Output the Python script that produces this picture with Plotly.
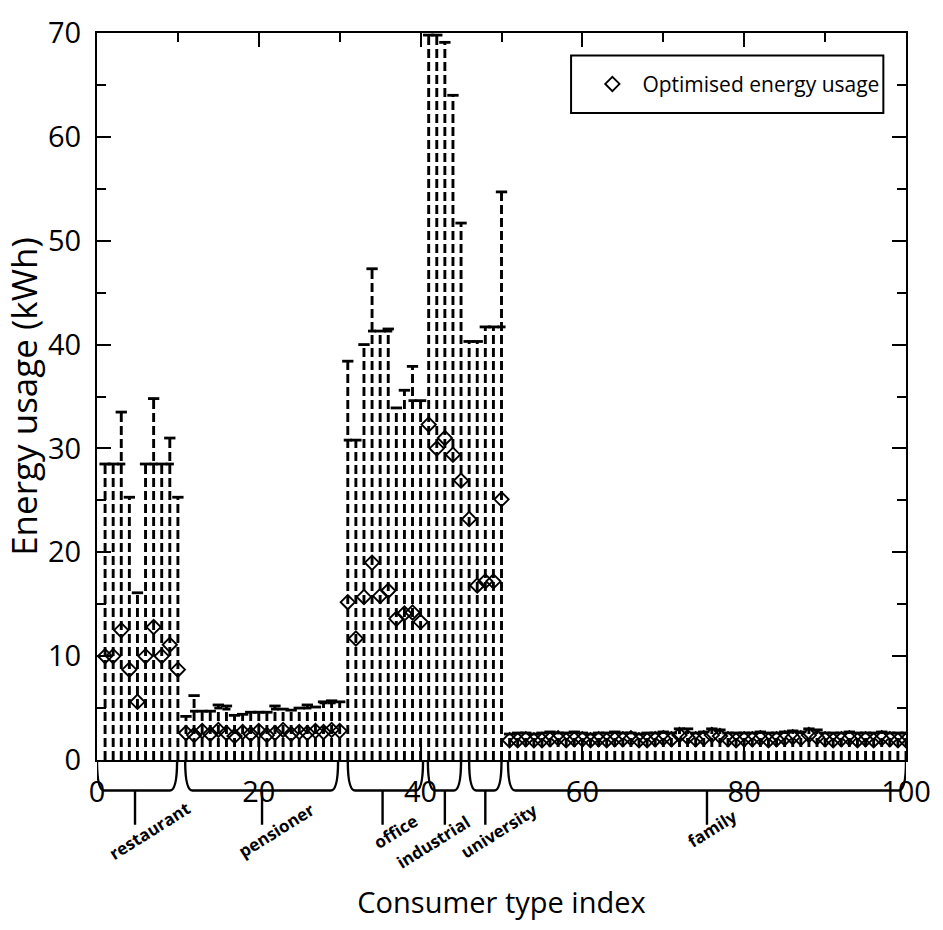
import plotly.graph_objects as go

# ---------------- data ----------------
consumer_index = list(range(1, 101))

# upper end of the usage range (top cap of each dashed line)
upper_usage = [
    # restaurant 1-10
    28.5, 28.5, 33.5, 25.3, 16.1, 28.5, 34.8, 28.5, 31.0, 25.3,
    # pensioner 11-30
    4.2, 6.2, 4.7, 4.7, 5.3, 5.2, 4.3, 4.4, 4.6, 4.6,
    4.6, 5.2, 4.9, 4.8, 5.0, 5.3, 5.1, 5.6, 5.7, 5.6,
    # office 31-40
    38.4, 30.8, 40.0, 47.3, 41.3, 41.5, 33.9, 35.6, 37.9, 34.6,
    # industrial 41-45
    69.8, 69.8, 69.1, 64.0, 51.7,
    # university 46-50
    40.3, 40.3, 41.7, 41.7, 54.7,
    # family 51-100
    2.5, 2.6, 2.6, 2.5, 2.6, 2.7, 2.6, 2.6, 2.7, 2.6,
    2.5, 2.6, 2.6, 2.7, 2.6, 2.6, 2.5, 2.6, 2.6, 2.7,
    2.6, 3.0, 3.0, 2.6, 2.7, 3.0, 2.9, 2.6, 2.6, 2.6,
    2.6, 2.7, 2.6, 2.6, 2.7, 2.8, 2.7, 3.0, 2.9, 2.6,
    2.6, 2.6, 2.7, 2.6, 2.6, 2.6, 2.7, 2.6, 2.6, 2.6,
]

# nominal usage level (step line)
level_usage = [
    28.5, 28.5, 28.5, 25.3, 16.1, 28.5, 28.5, 28.5, 28.5, 25.3,
    4.2, 4.7, 4.7, 4.7, 5.0, 4.9, 4.3, 4.4, 4.6, 4.6,
    4.6, 4.9, 4.9, 4.8, 5.0, 5.0, 5.1, 5.5, 5.5, 5.6,
    30.8, 30.8, 40.0, 41.3, 41.3, 41.3, 33.9, 35.6, 34.6, 34.6,
    69.8, 69.8, 69.1, 64.0, 51.7,
    40.3, 40.3, 41.7, 41.7, 41.7,
    2.5, 2.6, 2.6, 2.5, 2.6, 2.7, 2.6, 2.6, 2.7, 2.6,
    2.5, 2.6, 2.6, 2.7, 2.6, 2.6, 2.5, 2.6, 2.6, 2.7,
    2.6, 3.0, 3.0, 2.6, 2.7, 3.0, 2.9, 2.6, 2.6, 2.6,
    2.6, 2.7, 2.6, 2.6, 2.7, 2.8, 2.7, 3.0, 2.9, 2.6,
    2.6, 2.6, 2.7, 2.6, 2.6, 2.6, 2.7, 2.6, 2.6, 2.6,
]

# optimised energy usage (diamonds)
optimised_usage = [
    10.0, 10.0, 12.5, 8.7, 5.6, 10.0, 12.8, 10.0, 11.1, 8.7,
    2.6, 2.4, 2.8, 2.5, 2.9, 2.6, 2.3, 2.7, 2.5, 2.8,
    2.4, 2.6, 2.9, 2.5, 2.7, 2.6, 2.8, 2.7, 2.9, 2.8,
    15.2, 11.7, 15.7, 19.0, 15.8, 16.3, 13.6, 14.1, 14.2, 13.3,
    32.3, 30.0, 31.0, 29.4, 26.9,
    23.2, 16.8, 17.2, 17.2, 25.1,
    1.9, 1.9, 2.0, 1.9, 1.9, 2.0, 2.1, 1.9, 2.0, 2.0,
    1.9, 2.0, 1.9, 2.0, 2.0, 2.1, 1.9, 1.9, 2.0, 2.1,
    2.0, 2.4, 2.2, 2.0, 2.1, 2.4, 2.3, 2.0, 1.9, 2.0,
    2.0, 2.1, 1.9, 2.0, 2.1, 2.2, 2.1, 2.4, 2.2, 2.0,
    1.9, 2.0, 2.1, 1.9, 2.0, 1.9, 2.1, 2.0, 1.9, 1.9,
]

categories = ["restaurant", "pensioner", "office", "industrial", "university", "family"]
category_start = [0.0, 10.9, 31.0, 40.9, 46.0, 50.8]
category_end = [9.9, 29.8, 40.3, 45.0, 50.0, 100.0]
category_tip = [4.7, 20.4, 35.3, 43.0, 48.0, 75.4]

x_ticks = [0, 20, 40, 60, 80, 100]
y_ticks = [0, 10, 20, 30, 40, 50, 60, 70]

# ---------------- style ----------------
FONT = "Open Sans"
CAP_HALF = 0.7
STEP_HALF = 0.5

vx, vy = [], []
cx, cy = [], []
sx, sy = [], []
for i, u, lv in zip(consumer_index, upper_usage, level_usage):
    vx += [i, i, None]
    vy += [0, u, None]
    cx += [i - CAP_HALF, i + CAP_HALF, None]
    cy += [u, u, None]
    if lv < u:
        sx += [i - STEP_HALF, i + STEP_HALF, None]
        sy += [lv, lv, None]

fig = go.Figure()
fig.add_trace(go.Scatter(x=vx, y=vy, mode="lines", showlegend=False,
                         line=dict(color="black", width=2.9, dash="9px,4px")))
fig.add_trace(go.Scatter(x=cx, y=cy, mode="lines", showlegend=False,
                         line=dict(color="black", width=2.8)))
fig.add_trace(go.Scatter(x=sx, y=sy, mode="lines", showlegend=False,
                         line=dict(color="black", width=2.8)))
fig.add_trace(go.Scatter(x=consumer_index, y=optimised_usage, mode="markers",
                         name="Optimised energy usage",
                         marker=dict(symbol="diamond-open", size=11, color="black",
                                     line=dict(color="black", width=1.9))))

# braces below x axis
shapes = []
annotations = []
yt, yh, ytip = -0.001, -0.042, -0.089
label_dx = [15, 14, 13, -11, 14, 5]
label_y = [-0.0976, -0.0976, -0.099, -0.1125, -0.0976, -0.094]
for name, s, e, m, dx, ly in zip(categories, category_start, category_end,
                                 category_tip, label_dx, label_y):
    d = min(0.9, (e - s) / 4)
    path = (f"M {s},{yt} Q {s},{yh} {s + d},{yh} L {e - d},{yh} "
            f"Q {e},{yh} {e},{yt} M {m},{yh} L {m},{ytip}")
    shapes.append(dict(type="path", path=path, xref="x", yref="paper",
                       line=dict(color="black", width=2.4)))
    annotations.append(dict(x=m, y=ly, xref="x", yref="paper", text=f"<b>{name}</b>",
                            showarrow=False, textangle=-32, xshift=dx,
                            font=dict(family=FONT, size=17, color="black"),
                            xanchor="center", yanchor="middle"))

# legend frame
shapes.append(dict(type="rect", xref="paper", yref="paper",
                   x0=0.586, x1=0.972, y0=0.890, y1=0.969,
                   line=dict(color="black", width=2), fillcolor="white", layer="below"))

axis_common = dict(showline=True, linewidth=2, linecolor="black", mirror="ticks",
                   ticks="inside", ticklen=14, tickwidth=2, tickcolor="black",
                   showgrid=False, zeroline=False,
                   tickfont=dict(family=FONT, size=29, color="black"))

fig.update_layout(
    width=943, height=930,
    margin=dict(l=97, r=36, t=22, b=170),
    paper_bgcolor="white", plot_bgcolor="white",
    font=dict(family=FONT, color="black"),
    xaxis=dict(range=[0, 100], tickvals=x_ticks, ticktext=[str(v) for v in x_ticks],
               minor=dict(dtick=10, tick0=0, ticks="inside", ticklen=9, tickwidth=2,
                          tickcolor="black"),
               ticklabelstandoff=5,
               title=dict(text="Consumer type index", standoff=84,
                          font=dict(family=FONT, size=29, color="black")),
               **axis_common),
    yaxis=dict(range=[0, 70], tickvals=y_ticks, ticktext=[str(v) for v in y_ticks],
               minor=dict(dtick=5, tick0=0, ticks="inside", ticklen=9, tickwidth=2,
                          tickcolor="black"),
               ticklabelstandoff=8,
               title=dict(text="Energy usage (kWh)", standoff=8,
                          font=dict(family=FONT, size=35, color="black")),
               **axis_common),
    legend=dict(x=0.600, y=0.9295, xanchor="left", yanchor="middle",
                bgcolor="rgba(0,0,0,0)", borderwidth=0, itemwidth=50,
                font=dict(family=FONT, size=21, color="black")),
    shapes=shapes,
    annotations=annotations,
    showlegend=True,
)

fig.write_html("out.html")
